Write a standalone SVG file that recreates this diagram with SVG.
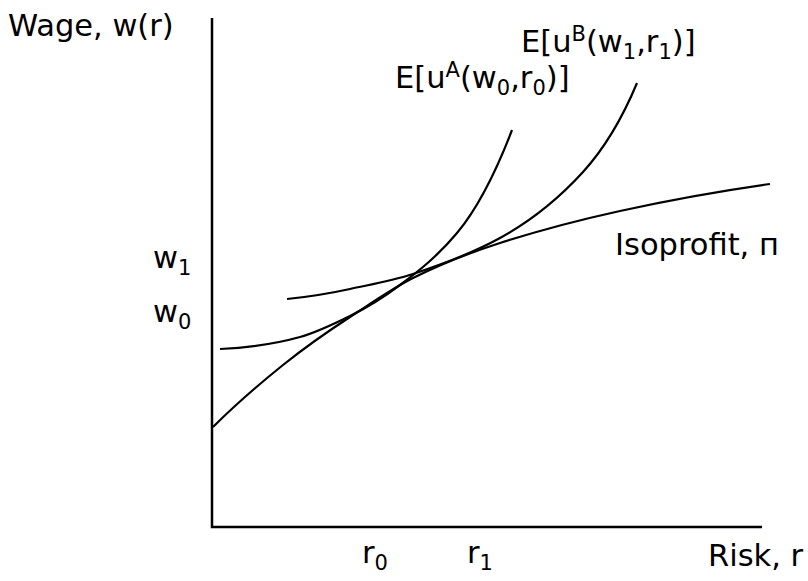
<svg xmlns="http://www.w3.org/2000/svg" width="808" height="581" viewBox="0 0 808 581">
<style>
.t{font-family:"DejaVu Sans",Verdana,sans-serif;font-size:30.5px;fill:#000}
.s{font-size:21px}
.c{fill:none;stroke:#000;stroke-width:2.2}
.ax{fill:none;stroke:#000;stroke-width:2.5}
</style>
<rect width="808" height="581" fill="#fff"/>
<g id="axes">
<path class="ax" d="M212,18 V527 H762"/>
</g>
<g id="connectors">
<path id="isoprofit" class="c" d="M213,427 C236.3,403.7 259.7,383.7 283,365 C305.3,347.1 327.7,331.5 350,317 C371,303.4 392,288.5 413,278 C442,263.5 471,252.3 500,243 C540,230.2 580,219.8 620,211 C670,200 720,191 770,184"/>
<path id="uA" class="c" d="M220,349 C246.7,347.7 273.3,344.5 300,337 C316.7,332.3 333.3,324.3 350,316 C366.7,307.7 383.3,297.5 400,285 C419,270.8 438,255.8 457,233 C475.3,211 493.7,177.7 512,130"/>
<path id="uB" class="c" d="M287,299 C308,296.9 329,293.6 350,289 C371,284.4 392,280.9 413,274 C442,264.4 471,254 500,238 C527.7,222.8 555.3,202.4 583,172 C601,152.2 619,126.2 637,83"/>
</g>
<g id="labels">
<text class="t" x="8" y="36">Wage, w(r)</text>
<text class="t" x="521" y="52">E[u<tspan class="s" dy="-11">B</tspan><tspan dy="11">(w</tspan><tspan class="s" dy="7">1</tspan><tspan dy="-7">,r</tspan><tspan class="s" dy="7">1</tspan><tspan dy="-7">)]</tspan></text>
<text class="t" x="395" y="88">E[u<tspan class="s" dy="-11">A</tspan><tspan dy="11">(w</tspan><tspan class="s" dy="7">0</tspan><tspan dy="-7">,r</tspan><tspan class="s" dy="7">0</tspan><tspan dy="-7">)]</tspan></text>
<text class="t" x="153" y="268">w<tspan class="s" dy="7">1</tspan></text>
<text class="t" x="153" y="322">w<tspan class="s" dy="7">0</tspan></text>
<text class="t" x="362" y="563">r<tspan class="s" dy="7">0</tspan></text>
<text class="t" x="467" y="563">r<tspan class="s" dy="7">1</tspan></text>
<text class="t" x="708" y="566">Risk, r</text>
<text class="t" x="615" y="255">Isoprofit, п</text>
</g>
</svg>
